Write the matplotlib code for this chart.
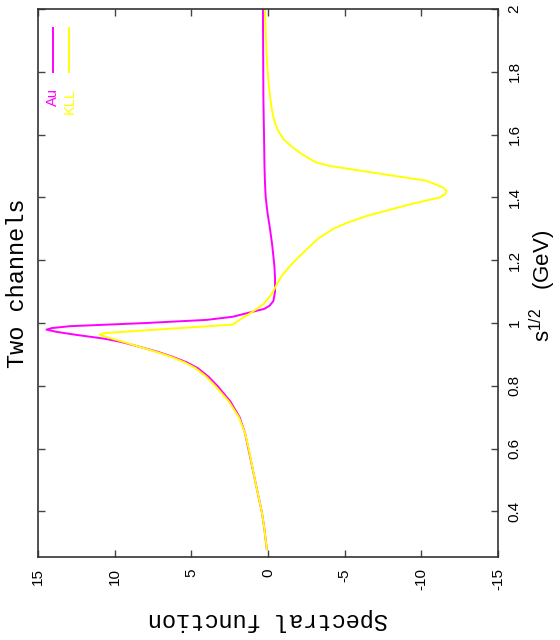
import matplotlib
matplotlib.use("Agg")
import matplotlib.pyplot as plt

au_s = [0.28, 0.35, 0.40, 0.50, 0.60, 0.65, 0.70, 0.75, 0.80, 0.83, 0.857,
        0.875, 0.894, 0.910, 0.926, 0.940, 0.950, 0.963, 0.972, 0.979, 0.984,
        0.990, 1.000, 1.010, 1.020, 1.035, 1.045, 1.055, 1.070, 1.100, 1.140,
        1.180, 1.250, 1.300, 1.350, 1.400, 1.450, 1.500, 1.600, 1.710, 2.000]
au_v = [0.08, 0.25, 0.41, 0.85, 1.28, 1.5, 1.85, 2.45, 3.3, 3.9, 4.6,
        5.3, 6.3, 7.3, 8.5, 9.6, 10.65, 12.6, 13.8, 14.45, 14.1,
        12.9, 8.0, 4.0, 2.3, 1.08, 0.25, -0.1, -0.35, -0.46, -0.46,
        -0.42, -0.27, -0.13, 0.03, 0.15, 0.2, 0.23, 0.26, 0.3, 0.33]

kll_s = [0.28, 0.35, 0.40, 0.50, 0.60, 0.65, 0.70, 0.75, 0.80, 0.83, 0.857,
         0.875, 0.894, 0.910, 0.926, 0.942, 0.955, 0.963, 0.968, 0.995, 1.015,
         1.033, 1.060, 1.091, 1.107, 1.130, 1.150, 1.180, 1.210, 1.245, 1.270,
         1.300, 1.320, 1.341, 1.378, 1.400, 1.410, 1.421, 1.432, 1.453, 1.474,
         1.500, 1.511, 1.522, 1.545, 1.564, 1.586, 1.618, 1.650, 1.680, 1.714,
         1.760, 1.820, 1.900, 2.000]
kll_v = [0.08, 0.25, 0.41, 0.85, 1.26, 1.5, 1.9, 2.55, 3.45, 4.05, 4.75,
         5.45, 6.4, 7.4, 8.5, 9.57, 10.5, 10.98, 10.7, 2.3, 1.7,
         1.1, 0.3, -0.22, -0.4, -0.65, -0.9, -1.4, -2.0, -2.74, -3.3,
         -4.26, -5.2, -6.44, -9.26, -11.2, -11.55, -11.65, -11.4, -10.35, -7.52,
         -4.04, -3.17, -2.74, -2.0, -1.5, -1.0, -0.6, -0.38, -0.25, -0.15,
         -0.05, 0.05, 0.13, 0.2]

spec_ticks = [15, 10, 5, 0, -5, -10, -15]
spec_labels = ["15", "10", "5", "0", "-5", "-10", "-15"]
s_ticks = [0.4, 0.6, 0.8, 1.0, 1.2, 1.4, 1.6, 1.8, 2.0]
s_labels = ["0.4", "0.6", "0.8", "1", "1.2", "1.4", "1.6", "1.8", "2"]

plt.rcParams["font.family"] = ["Liberation Sans", "DejaVu Sans"]
plt.rcParams["mathtext.fontset"] = "custom"
plt.rcParams["mathtext.rm"] = "Liberation Sans"
plt.rcParams["mathtext.it"] = "Liberation Sans"

fig = plt.figure(figsize=(5.6, 6.4), dpi=100)
ax = fig.add_axes([38 / 560, 83 / 640, 460 / 560, 548 / 640])

ax.plot(au_v, au_s, color="#ff00ff", lw=1.4, solid_joinstyle="round")
ax.plot(kll_v, kll_s, color="#ffff00", lw=1.4, solid_joinstyle="round")

ax.set_xlim(15, -15)
ax.set_ylim(0.255, 2.0)

ax.set_xticks(spec_ticks)
ax.set_xticklabels(spec_labels, rotation=90, fontsize=11)
ax.set_yticks(s_ticks)
ax.set_yticklabels(s_labels, rotation=90, fontsize=11, va="center")
ax.yaxis.tick_right()
ax.tick_params(direction="in", length=5, width=1, color="#444444",
               top=True, bottom=True, left=True, right=True)
ax.tick_params(axis="x", pad=8)
ax.tick_params(axis="y", pad=7)
for sp in ax.spines.values():
    sp.set_color("#333333")
    sp.set_linewidth(1.2)

# legend drawn by hand, rotated like the rest of the plot
ax.plot([0.033, 0.033], [0.885, 0.965], transform=ax.transAxes,
        color="#ff00ff", lw=1.4)
ax.plot([0.068, 0.068], [0.885, 0.965], transform=ax.transAxes,
        color="#ffff00", lw=1.4)
ax.text(0.033, 0.856, "Au", transform=ax.transAxes, rotation=90,
        ha="center", va="top", color="#ff00ff", fontsize=10.5)
ax.text(0.068, 0.856, "KLL", transform=ax.transAxes, rotation=90,
        ha="center", va="top", color="#ffff00", fontsize=10.5)

fig.text(18 / 560, 0.557, "Two channels", rotation=90, ha="center",
         va="center", family="Liberation Mono", fontsize=17)
fig.text(268 / 560, 20 / 640, "Spectral function", rotation=180,
         ha="center", va="center", family="Liberation Mono", fontsize=17)
fig.text(543 / 560, 0.553, r"s$^{1/2}$   (GeV)", rotation=90,
         ha="center", va="center", fontsize=16)

fig.savefig("out.png", dpi=100)
